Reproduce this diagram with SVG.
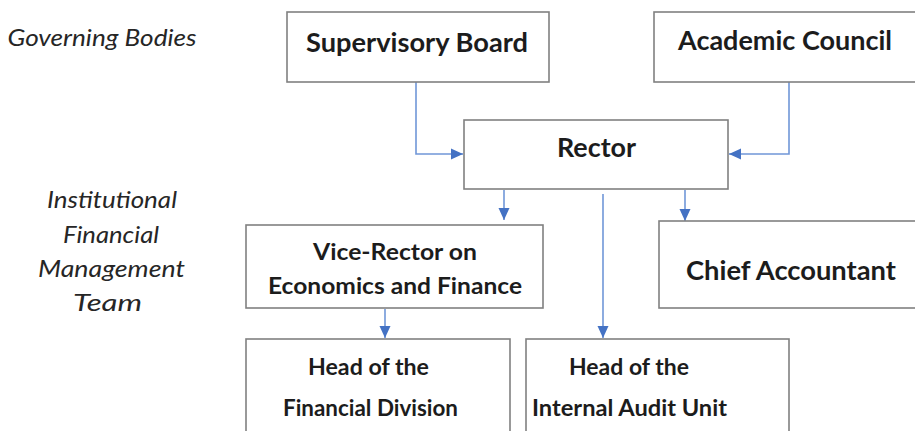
<svg xmlns="http://www.w3.org/2000/svg" width="915" height="431" viewBox="0 0 915 431">
  <style>
    .box { fill: #ffffff; stroke: #808080; stroke-width: 1.6; }
    .lbl { font-family: Lato, "Liberation Sans", sans-serif; font-weight: bold; fill: #1c1c1c; text-anchor: middle; }
    .side { font-family: Lato, "Liberation Sans", sans-serif; font-style: italic; fill: #262626; text-anchor: middle; font-size: 23px; }
    .link { fill: none; stroke: #7097d8; stroke-width: 1.6; }
  </style>
  <defs>
    <marker id="arrow" markerUnits="userSpaceOnUse" markerWidth="12" markerHeight="12" refX="12" refY="6" orient="auto">
      <path d="M0,0.5 L12,6 L0,11.5 z" fill="#4472c4"/>
    </marker>
  </defs>
  <rect width="915" height="431" fill="#ffffff"/>

  <!-- side captions -->
  <g id="captions">
    <text class="side" x="102" y="46" textLength="189" lengthAdjust="spacingAndGlyphs">Governing Bodies</text>
    <text class="side" x="112" y="208" textLength="130" lengthAdjust="spacingAndGlyphs">Institutional</text>
    <text class="side" x="111" y="243" textLength="96" lengthAdjust="spacingAndGlyphs">Financial</text>
    <text class="side" x="111.5" y="277" textLength="147" lengthAdjust="spacingAndGlyphs">Management</text>
    <text class="side" x="107.5" y="311" textLength="69" lengthAdjust="spacingAndGlyphs">Team</text>
  </g>

  <!-- connectors -->
  <g id="connectors">
    <polyline class="link" points="416,82 416,154 463,154" marker-end="url(#arrow)"/>
    <polyline class="link" points="789,82 789,154 729,154" marker-end="url(#arrow)"/>
    <line class="link" x1="504" y1="190" x2="504" y2="220" marker-end="url(#arrow)"/>
    <line class="link" x1="685" y1="190" x2="685" y2="221" marker-end="url(#arrow)"/>
    <line class="link" x1="603" y1="194" x2="603" y2="338" marker-end="url(#arrow)"/>
    <line class="link" x1="385" y1="309" x2="385" y2="338" marker-end="url(#arrow)"/>
  </g>

  <g id="supervisory-board">
    <rect class="box" x="287" y="12" width="262" height="70"/>
    <text class="lbl" x="417" y="52" font-size="26.5" textLength="222" lengthAdjust="spacingAndGlyphs">Supervisory Board</text>
  </g>

  <g id="academic-council">
    <rect class="box" x="654" y="12" width="270" height="70"/>
    <text class="lbl" x="785" y="50" font-size="26.5" textLength="214" lengthAdjust="spacingAndGlyphs">Academic Council</text>
  </g>

  <g id="rector">
    <rect class="box" x="464" y="120" width="264" height="69"/>
    <text class="lbl" x="596.5" y="157" font-size="26.5" textLength="79" lengthAdjust="spacingAndGlyphs">Rector</text>
  </g>

  <g id="vice-rector">
    <rect class="box" x="246" y="225" width="297" height="83"/>
    <text class="lbl" x="395" y="260" font-size="23.5" textLength="164" lengthAdjust="spacingAndGlyphs">Vice-Rector on</text>
    <text class="lbl" x="395" y="294" font-size="23.5" textLength="254" lengthAdjust="spacingAndGlyphs">Economics and Finance</text>
  </g>

  <g id="chief-accountant">
    <rect class="box" x="659" y="221" width="270" height="87"/>
    <text class="lbl" x="791" y="280" font-size="26.5" textLength="210" lengthAdjust="spacingAndGlyphs">Chief Accountant</text>
  </g>

  <g id="head-financial-division">
    <rect class="box" x="246" y="339" width="264" height="100"/>
    <text class="lbl" x="368.5" y="375" font-size="23.5" textLength="121" lengthAdjust="spacingAndGlyphs">Head of the</text>
    <text class="lbl" x="370.5" y="416" font-size="23.5" textLength="175" lengthAdjust="spacingAndGlyphs">Financial Division</text>
  </g>

  <g id="head-internal-audit">
    <rect class="box" x="526" y="339" width="263" height="100"/>
    <text class="lbl" x="629" y="375" font-size="23.5" textLength="120" lengthAdjust="spacingAndGlyphs">Head of the</text>
    <text class="lbl" x="629.5" y="416" font-size="23.5" textLength="195" lengthAdjust="spacingAndGlyphs">Internal Audit Unit</text>
  </g>
</svg>
